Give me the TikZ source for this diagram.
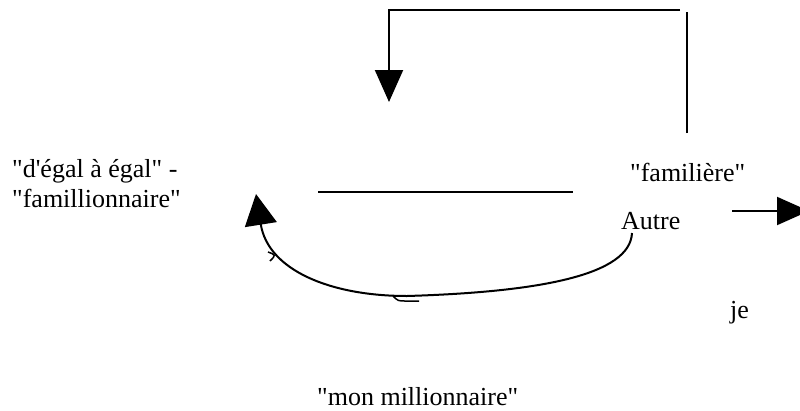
\documentclass[tikz,border=0pt]{standalone}
\usepackage{fontspec}
\setmainfont{Liberation Serif}[Ligatures=TeXOff]
\usetikzlibrary{arrows.meta}
\begin{document}
\begin{tikzpicture}[x=1pt,y=-1pt,
  lbl/.style={inner sep=0pt,anchor=base west,font=\fontsize{26pt}{30pt}\selectfont},
  ln/.style={line width=2pt},
  thin/.style={line width=1.5pt},
  arr/.style={ln,-{Triangle[length=32pt,width=28pt]}},
  arrw/.style={ln,-{Triangle[length=31pt,width=32pt]}}]
\useasboundingbox (0,0) rectangle (800,410);
\clip (0,0) rectangle (800,410);
% texts
\node[lbl] (l1) at (12,177) {"d'égal à égal" -};
\node[lbl] (l2) at (12,207) {"famillionnaire"};
\node[lbl] (fam) at (630,181) {"familière"};
\node[lbl] (autre) at (621,229) {Autre};
\node[lbl] (je) at (730,318) {je};
\node[lbl] (mon) at (317,405) {"mon millionnaire"};
% coordinates
\coordinate (rb) at (687,133);
\coordinate (rt) at (687,12);
\coordinate (ta) at (680,10);
\coordinate (tb) at (389,10);
\coordinate (tc) at (389,102);
\coordinate (m1) at (318,192);
\coordinate (m2) at (573,192);
\coordinate (ra) at (732,211);
\coordinate (rz) at (809,211);
\coordinate (cs) at (632,233);
\coordinate (cm) at (407,296);
\coordinate (ce) at (256,194);
% lines
\draw[ln] (rb) -- (rt);
\draw[arr] (ta) -- (tb) -- (tc);
\draw[ln] (m1) -- (m2);
\draw[arr] (ra) -- (rz);
\draw[arrw] (cs) .. controls (630,275) and (540,292) .. (cm)
              .. controls (330,296) and (268,270) .. (ce);
% small hooks
\draw[thin] (268,252) .. controls (276,255) .. (270,261);
\draw[thin] (393,296) .. controls (398,301) .. (406,301) -- (419,301);
\end{tikzpicture}
\end{document}
